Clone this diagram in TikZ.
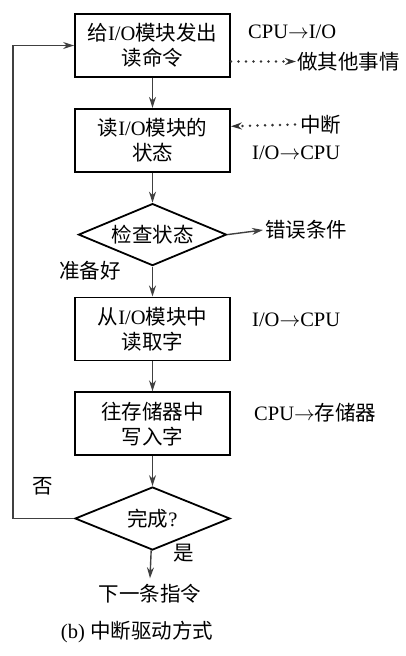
\documentclass[tikz,border=0pt]{standalone}
\usepackage{fontspec}
\setmainfont{Liberation Serif}
\newfontfamily\cjk{Noto Sans CJK SC}
\usetikzlibrary{shapes,arrows.meta,positioning}

\begin{document}
\begin{tikzpicture}[
    x=1pt, y=1pt,
    node distance=30pt,
    stepbox/.style={draw, line width=1.8pt, minimum width=155pt, minimum height=63pt, align=center, font=\fontsize{20.5}{25}\selectfont},
    test/.style={draw, diamond, aspect=2.4, line width=1.8pt, minimum width=148pt, minimum height=62pt, inner sep=0pt, font=\fontsize{20.5}{25}\selectfont},
    note/.style={inner sep=0pt, font=\fontsize{20.5}{25}\selectfont},
    flow/.style={->, line width=1.4pt, draw=black!75},
    hint/.style={->, line width=2.8pt, line cap=round, dash pattern=on 0pt off 7.5pt, draw=black!80},
    >={Stealth[length=11pt,width=7pt]}
]
\useasboundingbox (0,0) rectangle (405,-656);

% Main flow
\node[stepbox] (send) at (152.5,-45.5) {{\cjk 给}I/O{\cjk 模块发出}\\{\cjk 读命令}};
\node[stepbox, below=of send] (status) {{\cjk 读}I/O{\cjk 模块的}\\{\cjk 状态}};
\node[test, below=of status] (check) {\cjk 检查状态};
\node[stepbox, below=of check] (readw) {{\cjk 从}I/O{\cjk 模块中}\\{\cjk 读取字}};
\node[stepbox, below=of readw] (write) {{\cjk 往存储器中}\\{\cjk 写入字}};
\node[test, below=of write, minimum width=155pt, minimum height=63pt] (done) {{\cjk 完成}?};
\node[note] (next) at (150,-594) {\cjk 下一条指令};
\node[note] (caption) at (137,-632) {(b) {\cjk 中断驱动方式}};

% Side notes
\node[note, anchor=west] (cpuio) at (248,-32) {CPU$\rightarrow$I/O};
\node[note, anchor=west] (other) at (297,-61.5) {\cjk 做其他事情};
\node[note, anchor=west] (intr) at (300,-124.5) {\cjk 中断};
\node[note, anchor=west] (iocpua) at (252,-153) {I/O$\rightarrow$CPU};
\node[note, anchor=west] (err) at (265,-230) {\cjk 错误条件};
\node[note, anchor=west] (iocpub) at (252,-320) {I/O$\rightarrow$CPU};
\node[note, anchor=west] (cpumem) at (254,-413) {CPU$\rightarrow${\cjk 存储器}};
\node[note] (ready) at (90,-271) {\cjk 准备好};
\node[note] (no) at (43,-486) {\cjk 否};
\node[note] (yes) at (184,-553) {\cjk 是};

% Connectors
\draw[flow] (send) -- (status);
\draw[flow] (status) -- (check);
\draw[flow] (check) -- (readw);
\draw[flow] (readw) -- (write);
\draw[flow] (write) -- (done);
\draw[flow] (done) -- ([yshift=6pt]next.north);
\draw[flow] (check.east) -- ([xshift=-2pt]err.west);
\draw[flow] (done.west) -- ++(-61,0) |- (send.west);
\draw[hint] ([yshift=-16pt]send.east) -- ([xshift=-1pt]other.west);
\draw[hint] ([xshift=-5pt]intr.west) -- ([yshift=14pt]status.east);
\end{tikzpicture}
\end{document}
